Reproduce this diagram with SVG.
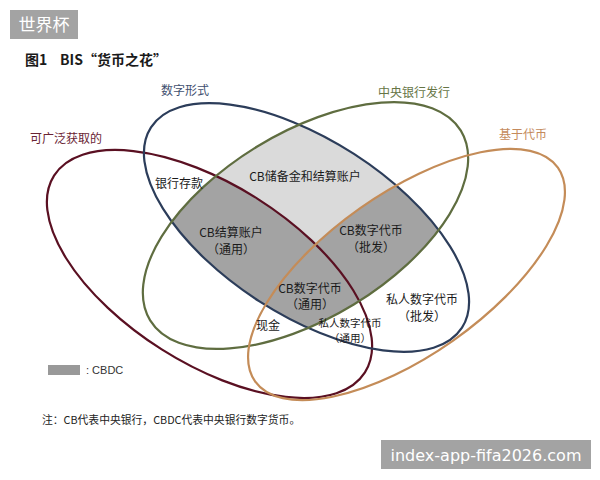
<svg xmlns="http://www.w3.org/2000/svg" width="600" height="480" viewBox="0 0 600 480">
<style>
.t{font-family:"Noto Sans CJK SC","Liberation Sans",sans-serif;font-size:12px;fill:#1a1a1a;text-anchor:middle}
.s{font-size:10.5px}
.e{fill:none;stroke-width:2.2}
.wm{font-family:"DejaVu Sans","Noto Sans CJK SC",sans-serif;fill:#fff}
</style>
<defs>
<clipPath id="cBlue"><ellipse cx="306.5" cy="227.5" rx="185" ry="87.6" transform="rotate(32.8 306.5 227.5)"/></clipPath>
<clipPath id="cGreen"><ellipse cx="305.5" cy="225.5" rx="182" ry="92.6" transform="rotate(-31.4 305.5 225.5)"/></clipPath>
</defs>
<rect width="600" height="480" fill="#fff"/>
<g id="shading">
<g clip-path="url(#cBlue)">
<ellipse cx="305.5" cy="225.5" rx="182" ry="92.6" transform="rotate(-31.4 305.5 225.5)" fill="#dadada"/>
<g clip-path="url(#cGreen)">
<ellipse cx="209.5" cy="274" rx="184" ry="89.3" transform="rotate(32.35 209.5 274)" fill="#a3a3a3"/>
<ellipse cx="406.5" cy="274.5" rx="185.3" ry="80.9" transform="rotate(-35.2 406.5 274.5)" fill="#a3a3a3"/>
</g>
</g>
</g>
<g id="connectors">
<ellipse id="e-widely" class="e" cx="209.5" cy="274" rx="184" ry="89.3" transform="rotate(32.35 209.5 274)" stroke="#5a1022"/>
<ellipse id="e-digital" class="e" cx="306.5" cy="227.5" rx="185" ry="87.6" transform="rotate(32.8 306.5 227.5)" stroke="#2c3d5a"/>
<ellipse id="e-cb" class="e" cx="305.5" cy="225.5" rx="182" ry="92.6" transform="rotate(-31.4 305.5 225.5)" stroke="#5f6d40"/>
<ellipse id="e-token" class="e" cx="406.5" cy="274.5" rx="185.3" ry="80.9" transform="rotate(-35.2 406.5 274.5)" stroke="#c48c58"/>
</g>
<g id="wm-top"><rect x="10" y="10" width="68" height="29" fill="#a3a3a3"/><text class="wm" x="44" y="31" font-size="17" text-anchor="middle" font-family="Noto Sans CJK SC">世界杯</text></g>
<g id="title"><text x="25" y="65" font-family="Noto Sans CJK SC,Liberation Sans,sans-serif" font-size="14" font-weight="bold" fill="#1a1a1a">图1<tspan x="60">BIS“货币之花”</tspan></text></g>
<g id="lbl-digital"><text class="t" x="185" y="95" style="fill:#3f5070">数字形式</text></g>
<g id="lbl-cb"><text class="t" x="414" y="97" style="fill:#667545">中央银行发行</text></g>
<g id="lbl-token"><text class="t" x="523" y="139" style="fill:#c48a5c">基于代币</text></g>
<g id="lbl-widely"><text class="t" x="66" y="143" style="fill:#6a2434">可广泛获取的</text></g>
<g id="n-deposit"><text class="t" x="179" y="188">银行存款</text></g>
<g id="n-reserve"><text class="t" x="305" y="181">CB储备金和结算账户</text></g>
<g id="n-cbacct"><text class="t" x="231" y="237">CB结算账户</text><text class="t" x="231" y="254">（通用）</text></g>
<g id="n-cbtok-w"><text class="t" x="371" y="235">CB数字代币</text><text class="t" x="371" y="252">（批发）</text></g>
<g id="n-cbtok-g"><text class="t" x="310" y="293">CB数字代币</text><text class="t" x="310" y="309">（通用）</text></g>
<g id="n-cash"><text class="t" x="268" y="330">现金</text></g>
<g id="n-ptok-g"><text class="t s" x="350" y="327">私人数字代币</text><text class="t s" x="350" y="342">（通用）</text></g>
<g id="n-ptok-w"><text class="t" x="422" y="304">私人数字代币</text><text class="t" x="422" y="321">（批发）</text></g>
<g id="legend"><rect x="48" y="365" width="32" height="10" fill="#999"/><text x="86" y="374" font-family="Liberation Sans,sans-serif" font-size="11" fill="#333">:  CBDC</text></g>
<g id="note"><text x="42" y="424" font-family="Noto Sans CJK SC,sans-serif" font-size="10.8" fill="#222">注：CB代表中央银行，CBDC代表中央银行数字货币。</text></g>
<g id="wm-bottom"><rect x="381" y="440" width="210" height="29" fill="#a3a3a3"/><text class="wm" x="486" y="461" font-size="16" text-anchor="middle">index-app-fifa2026.com</text></g>
</svg>
